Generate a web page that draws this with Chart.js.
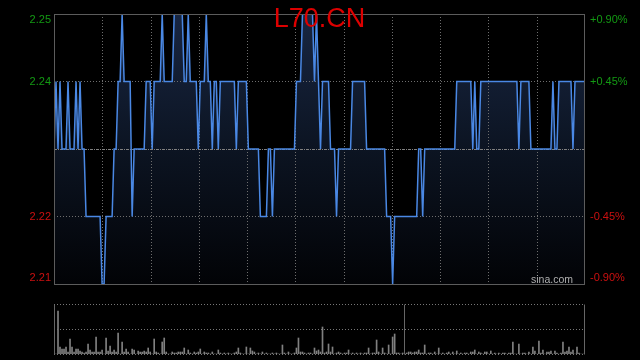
<!DOCTYPE html>
<html><head><meta charset="utf-8">
<script src="https://cdn.jsdelivr.net/npm/chart.js@4.4.1/dist/chart.umd.min.js"></script>
<style>
html,body{margin:0;padding:0;background:#000;width:640px;height:360px;overflow:hidden}
#p{position:absolute;left:0;top:0}
#v{position:absolute;left:0;top:290px}
</style></head><body>
<canvas id="p" width="640" height="300"></canvas>
<canvas id="v" width="640" height="70"></canvas>
<script>
const title = 'L70.CN';
const watermark = 'sina.com';
const prevClose = 2.23;
const priceMin = 2.21, priceMax = 2.25;
const priceTicks = [2.25, 2.24, 2.22, 2.21];
const priceTickLabels = ['2.25', '2.24', '2.22', '2.21'];
const pctTickLabels = ['+0.90%', '+0.45%', '-0.45%', '-0.90%'];
const timeGridCount = 11;
const volumeMax = 50;
const volumeMarkerIndex = 174.5;

const prices = [
 2.23,2.24,2.23,2.24,2.23,2.23,2.23,2.24,2.23,2.23,
 2.23,2.24,2.23,2.24,2.23,2.23,2.22,2.22,2.22,2.22,
 2.22,2.22,2.22,2.22,2.21,2.21,2.22,2.22,2.22,2.22,
 2.23,2.23,2.24,2.24,2.25,2.24,2.24,2.24,2.24,2.22,
 2.23,2.23,2.23,2.23,2.23,2.23,2.24,2.24,2.24,2.23,
 2.24,2.24,2.24,2.24,2.25,2.24,2.24,2.24,2.24,2.24,
 2.25,2.25,2.25,2.25,2.25,2.24,2.24,2.25,2.24,2.24,
 2.24,2.24,2.23,2.24,2.24,2.24,2.25,2.24,2.24,2.23,
 2.24,2.24,2.23,2.24,2.24,2.24,2.24,2.24,2.24,2.24,
 2.24,2.23,2.24,2.24,2.24,2.24,2.24,2.23,2.23,2.23,
 2.23,2.23,2.23,2.22,2.22,2.22,2.22,2.23,2.23,2.22,
 2.23,2.23,2.23,2.23,2.23,2.23,2.23,2.23,2.23,2.23,
 2.23,2.24,2.24,2.24,2.25,2.25,2.25,2.25,2.25,2.25,
 2.24,2.25,2.24,2.23,2.24,2.24,2.24,2.24,2.23,2.23,
 2.23,2.22,2.23,2.23,2.23,2.23,2.23,2.23,2.23,2.24,
 2.24,2.24,2.24,2.24,2.24,2.24,2.23,2.23,2.23,2.23,
 2.23,2.23,2.23,2.23,2.23,2.23,2.22,2.22,2.22,2.21,
 2.22,2.22,2.22,2.22,2.22,2.22,2.22,2.22,2.22,2.22,
 2.22,2.22,2.23,2.23,2.22,2.23,2.23,2.23,2.23,2.23,
 2.23,2.23,2.23,2.23,2.23,2.23,2.23,2.23,2.23,2.23,
 2.23,2.24,2.24,2.24,2.24,2.24,2.24,2.24,2.24,2.23,
 2.24,2.23,2.23,2.24,2.24,2.24,2.24,2.24,2.24,2.24,
 2.24,2.24,2.24,2.24,2.24,2.24,2.24,2.24,2.24,2.24,
 2.24,2.24,2.23,2.24,2.24,2.24,2.24,2.24,2.23,2.23,
 2.23,2.23,2.23,2.23,2.23,2.23,2.23,2.23,2.23,2.24,
 2.23,2.23,2.24,2.24,2.24,2.24,2.24,2.24,2.24,2.23,
 2.24,2.24,2.24,2.24,2.24,2.24
];

const volumes = [
 16,0,43,7,5,5,7,2,15,7,
 2,5,5,3,2,1,2,10,4,2,
 2,17,2,2,4,0,16,3,8,2,
 4,2,21,0,12,2,5,2,0,5,
 4,0,3,2,2,3,2,6,2,0,
 15,2,1,0,12,16,2,0,0,2,
 1,1,2,2,2,6,0,4,1,0,
 2,1,2,5,0,2,1,1,0,2,
 0,0,4,1,0,1,0,1,0,0,
 1,2,6,1,0,0,7,0,6,3,
 2,0,1,0,2,0,1,0,0,1,
 0,1,0,0,9,1,0,2,0,0,
 1,6,16,2,2,1,0,1,1,0,
 6,3,4,2,27,1,2,10,2,7,
 0,1,2,1,0,1,1,4,0,1,
 0,1,0,1,0,1,1,6,0,1,
 1,14,2,0,6,1,0,9,0,17,
 20,1,1,0,1,0,1,2,2,1,
 2,2,4,1,1,9,0,1,1,0,
 2,0,6,0,1,0,1,2,0,2,
 0,3,0,1,0,1,1,0,2,2,
 4,0,2,1,0,2,2,0,3,0,
 1,0,1,0,1,1,0,1,1,12,
 0,0,10,0,1,1,0,2,0,7,
 3,0,13,1,4,0,2,2,3,0,
 3,1,0,1,12,2,3,7,2,4,
 0,7,1,0,0,0
];

const FONT = '"Liberation Sans", Arial, sans-serif';
const GREEN = '#139a13', RED = '#cc1010';

function line(ctx, x1, y1, x2, y2, dash, color) {
  ctx.save();
  ctx.strokeStyle = color; ctx.lineWidth = 1; ctx.setLineDash(dash);
  ctx.beginPath(); ctx.moveTo(x1, y1); ctx.lineTo(x2, y2); ctx.stroke();
  ctx.restore();
}

const priceDecor = {
  id: 'priceDecor',
  beforeDatasetDraw(chart) {
    const {ctx, chartArea: a, scales: {x, y}} = chart;
    for (let k = 1; k < timeGridCount; k++) {
      const px = Math.round(x.getPixelForValue(k * (prices.length - 1) / timeGridCount)) + 0.5;
      line(ctx, px, a.top, px, a.bottom, [1, 2], '#6e6e6e');
    }
    priceTicks.forEach(v => {
      if (v === priceMin || v === priceMax) return;
      const py = Math.round(y.getPixelForValue(v)) + 0.5;
      line(ctx, a.left, py, a.right, py, [1, 2], '#6e6e6e');
    });
    const pc = Math.round(y.getPixelForValue(prevClose)) + 0.5;
    line(ctx, a.left, pc, a.right, pc, [3, 1, 1, 1], '#808080');
  },
  afterDraw(chart) {
    const {ctx, chartArea: a, scales: {y}} = chart;
    ctx.save();
    ctx.strokeStyle = '#5c5c5c'; ctx.lineWidth = 1;
    ctx.strokeRect(a.left + 0.5, a.top + 0.5, a.right - a.left - 1, a.bottom - a.top);
    ctx.font = '11px ' + FONT;
    ctx.textBaseline = 'middle';
    priceTicks.forEach((v, i) => {
      let py = y.getPixelForValue(v);
      if (v === priceMax) py += 6;
      if (v === priceMin) py -= 6;
      ctx.fillStyle = v > prevClose ? GREEN : RED;
      ctx.textAlign = 'right';
      ctx.fillText(priceTickLabels[i], a.left - 3, py);
      ctx.textAlign = 'left';
      ctx.fillText(pctTickLabels[i], a.right + 5, py);
    });
    ctx.font = '10.5px ' + FONT;
    ctx.fillStyle = '#b0b0b0';
    ctx.textAlign = 'right';
    ctx.textBaseline = 'alphabetic';
    ctx.fillText(watermark, a.right - 12, a.bottom - 1);
    ctx.font = '27px ' + FONT;
    ctx.fillStyle = '#dd0000';
    ctx.textAlign = 'center';
    ctx.fillText(title, 319.5, 27);
    ctx.restore();
  }
};

const volDecor = {
  id: 'volDecor',
  afterDraw(chart) {
    const {ctx, chartArea: a, scales: {x, y}} = chart;
    const top = a.top + 0.5, bot = a.bottom + 0.5;
    const mid = Math.round(y.getPixelForValue(volumeMax / 2)) + 0.5;
    line(ctx, a.left, top, a.right, top, [1, 2], '#777');
    line(ctx, a.left, mid, a.right, mid, [1, 2], '#777');
    line(ctx, a.left, bot, a.right, bot, [1, 2], '#777');
    line(ctx, a.left + 0.5, top, a.left + 0.5, bot, [], '#666');
    line(ctx, a.right - 0.5, top, a.right - 0.5, bot, [], '#666');
    const mx = Math.round(x.getPixelForValue(volumeMarkerIndex)) + 0.5;
    line(ctx, mx, top, mx, bot, [], '#666');
  }
};

const idx = prices.map((_, i) => i);

new Chart(document.getElementById('p'), {
  type: 'line',
  data: {
    labels: idx,
    datasets: [{
      data: prices,
      borderColor: '#4a88e4',
      borderWidth: 1.5,
      pointRadius: 0,
      tension: 0,
      fill: 'start',
      backgroundColor(ctx) {
        const a = ctx.chart.chartArea;
        if (!a) return 'rgba(20,34,60,1)';
        const g = ctx.chart.ctx.createLinearGradient(0, a.top, 0, a.bottom);
        g.addColorStop(0, 'rgb(24,38,66)');
        g.addColorStop(0.5, 'rgb(12,20,34)');
        g.addColorStop(1, 'rgb(2,3,6)');
        return g;
      }
    }]
  },
  options: {
    responsive: false, animation: false, events: [],
    layout: {padding: {left: 54, right: 55, top: 14, bottom: 16}},
    plugins: {legend: {display: false}, tooltip: {enabled: false}},
    scales: {
      x: {type: 'linear', min: 0, max: prices.length - 1, display: false},
      y: {min: priceMin, max: priceMax, display: false}
    }
  },
  plugins: [priceDecor]
});

new Chart(document.getElementById('v'), {
  type: 'bar',
  data: {
    labels: idx,
    datasets: [{data: volumes, backgroundColor: '#808080', barThickness: 1, borderWidth: 0}]
  },
  options: {
    responsive: false, animation: false, events: [],
    layout: {padding: {left: 54, right: 55, top: 14, bottom: 6}},
    plugins: {legend: {display: false}, tooltip: {enabled: false}},
    scales: {
      x: {type: 'category', offset: false, display: false},
      y: {min: 0, max: volumeMax, display: false}
    }
  },
  plugins: [volDecor]
});
</script>
</body></html>
